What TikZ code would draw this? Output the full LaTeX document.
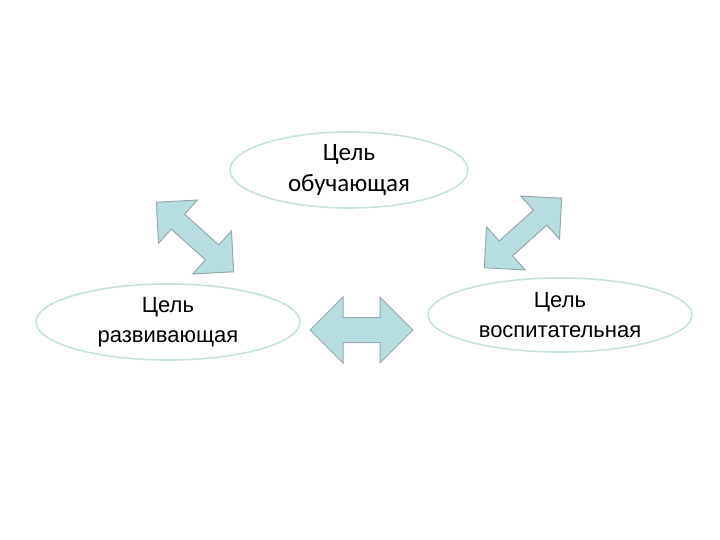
\documentclass[tikz,border=0pt]{standalone}
\usepackage{fontspec}
\setmainfont{Carlito}
\newfontfamily\arialf{Liberation Sans}
\usetikzlibrary{shapes.geometric}
\definecolor{ell}{HTML}{C5E2E2}
\definecolor{afill}{HTML}{B7DDE1}
\definecolor{aline}{HTML}{97A9AD}
\tikzset{
  goal/.style={ellipse,draw=ell,line width=1.6pt,fill=white,align=center,inner sep=0pt},
  darrow/.style={draw=aline,fill=afill,line width=1pt,line join=miter},
  pics/dbl/.style args={#1/#2/#3/#4}{code={
    \path[darrow] (-#1/2,0) -- (-#1/2+#4,-#3) -- (-#1/2+#4,-#2) -- (#1/2-#4,-#2) -- (#1/2-#4,-#3) -- (#1/2,0)
      -- (#1/2-#4,#3) -- (#1/2-#4,#2) -- (-#1/2+#4,#2) -- (-#1/2+#4,#3) -- cycle;
  }}
}
\begin{document}
\begin{tikzpicture}[x=1pt,y=-1pt]
\useasboundingbox (0,0) rectangle (720,540);
\node[goal,minimum width=238pt,minimum height=76pt,font=\fontsize{25}{31}\selectfont] (t) at (349,170) {Цель\\обучающая};
\node[goal,minimum width=264pt,minimum height=76pt,font=\arialf\fontsize{22}{30}\selectfont] (l) at (168,322) {Цель\\развивающая};
\node[goal,minimum width=264pt,minimum height=74pt,font=\arialf\fontsize{22}{30}\selectfont] (r) at (560,315) {Цель\\воспитательная};
\pic (h) at (361.5,330) {dbl={103/12.5/33/33}};
\pic[rotate=-42] (dl) at (195,237) {dbl={104/10/29/29}};
\pic[rotate=42] (dr) at (523,233) {dbl={104/10/29/29}};
\end{tikzpicture}
\end{document}
